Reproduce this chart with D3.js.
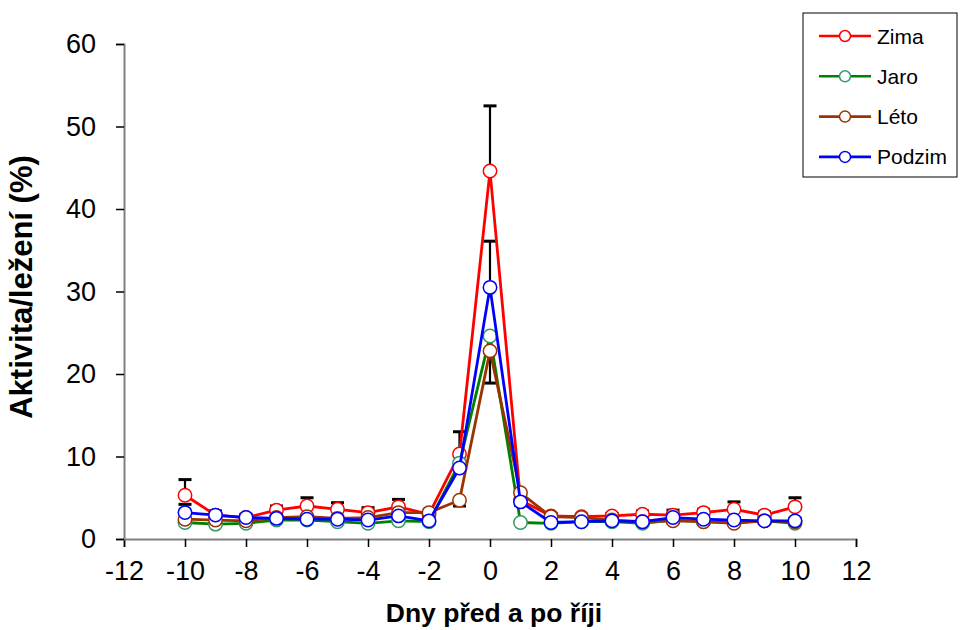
<!DOCTYPE html>
<html><head><meta charset="utf-8">
<script src="https://cdn.jsdelivr.net/npm/d3@7/dist/d3.min.js"></script>
<style>body{margin:0;background:#fff}svg{display:block}text{font-family:Arial,"Liberation Sans",sans-serif}</style>
</head><body><svg id="c" width="960" height="630"></svg>
<script>
const days = [-10,-9,-8,-7,-6,-5,-4,-3,-2,-1,0,1,2,3,4,5,6,7,8,9,10];
const zima   = [5.3,2.9,2.6,3.5,4.0,3.6,3.2,3.9,3.0,10.3,44.6,4.7,2.8,2.7,2.8,3.0,2.9,3.2,3.6,2.9,3.9];
const jaro   = [2.0,1.8,1.9,2.3,2.3,2.1,1.9,2.2,2.1,9.2,24.6,2.0,1.9,2.1,2.1,1.9,2.3,2.1,2.0,2.2,1.9];
const leto   = [2.4,2.3,2.2,2.6,2.7,2.5,2.6,3.2,3.2,4.7,22.8,5.6,2.7,2.6,2.3,2.1,2.2,2.1,1.9,2.2,2.1];
const podzim = [3.2,2.9,2.6,2.5,2.4,2.4,2.3,2.8,2.2,8.6,30.5,4.5,2.0,2.1,2.2,2.1,2.6,2.4,2.3,2.2,2.2];
// error bar ends (upper for Zima/Podzim, lower for Léto); null = not shown
const zimaErrTop   = [7.2,3.4,3.0,4.0,5.0,4.4,3.8,4.8,3.3,13.0,52.5,5.2,3.1,3.0,3.1,3.4,3.5,3.6,4.5,3.3,5.0];
const podzimErrTop = [4.2,3.3,2.9,2.8,2.7,2.7,2.6,3.1,2.5,9.0,36.1,4.9,2.3,2.4,2.5,2.4,3.0,2.7,2.6,2.5,2.5];
const letoErrLow   = [null,null,null,null,null,null,null,null,null,4.0,18.9,4.1,null,null,null,null,null,null,null,null,null];
const xTicks = [-12,-10,-8,-6,-4,-2,0,2,4,6,8,10,12];
const yTicks = [0,10,20,30,40,50,60];
const seriesNames = ["Zima","Jaro","Léto","Podzim"];
const lineColors = ["#ff0000","#008000","#993300","#0000ff"];
const markerColors = ["#ff0000","#339966","#993300","#0000ff"];
const xLabel = "Dny před a po říji";
const yLabel = "Aktivita/ležení (%)";

const svg = d3.select("#c");
const x = d3.scaleLinear().domain([-12,12]).range([124,856]);
const y = d3.scaleLinear().domain([0,60]).range([539,44]);

// axes
const gx = svg.append("g").attr("transform","translate(0,539)")
  .call(d3.axisBottom(x).tickValues(xTicks).tickSize(8).tickPadding(14).tickFormat(d=>d<0?"-"+Math.abs(d):d));
const gy = svg.append("g").attr("transform","translate(124,0)")
  .call(d3.axisLeft(y).tickValues(yTicks).tickSize(8).tickPadding(20));
[gx,gy].forEach(g=>{
  g.attr("font-size",null).attr("font-family",null);
  g.select(".domain").attr("stroke","#808080").attr("stroke-width",2);
  g.selectAll(".tick line").attr("stroke","#000").attr("stroke-width",1.5);
  g.selectAll(".tick text").style("font-size","27px").attr("fill","#000");
});

svg.append("text").attr("x",494).attr("y",622).attr("text-anchor","middle")
  .style("font-size","26.5px").attr("font-weight","bold").text(xLabel);
svg.append("text").attr("transform","translate(32,287) rotate(-90)").attr("text-anchor","middle")
  .style("font-size","31px").attr("font-weight","bold").text(yLabel);

const allSeries = [zima,jaro,leto,podzim];
const errSets = [[zima,zimaErrTop],[podzim,podzimErrTop],[leto,letoErrLow]];

// error bars
const eg = svg.append("g");
errSets.forEach(([vals,ends])=>{
  days.forEach((d,i)=>{
    if(ends[i]==null) return;
    eg.append("line").attr("x1",x(d)).attr("x2",x(d)).attr("y1",y(vals[i])).attr("y2",y(ends[i]))
      .attr("stroke","#000").attr("stroke-width",2.2);
    eg.append("line").attr("x1",x(d)-6.5).attr("x2",x(d)+6.5).attr("y1",y(ends[i])).attr("y2",y(ends[i]))
      .attr("stroke","#000").attr("stroke-width",3);
  });
});

const line = d3.line().x((v,i)=>x(days[i])).y(v=>y(v));
allSeries.forEach((vals,k)=>{
  svg.append("path").datum(vals).attr("d",line).attr("fill","none")
    .attr("stroke",lineColors[k]).attr("stroke-width",2.8).attr("stroke-linejoin","round");
  svg.append("g").selectAll("circle").data(vals).join("circle")
    .attr("cx",(v,i)=>x(days[i])).attr("cy",v=>y(v)).attr("r",6.7)
    .attr("fill","#fff").attr("stroke",markerColors[k]).attr("stroke-width",1.5);
});

// legend
const lg = svg.append("g");
lg.append("rect").attr("x",803).attr("y",13).attr("width",154).attr("height",164)
  .attr("fill","#fff").attr("stroke","#000").attr("stroke-width",1);
seriesNames.forEach((n,k)=>{
  const yy = 36 + k*40.3;
  lg.append("line").attr("x1",819).attr("x2",871).attr("y1",yy).attr("y2",yy)
    .attr("stroke",lineColors[k]).attr("stroke-width",2.6);
  lg.append("circle").attr("cx",845).attr("cy",yy).attr("r",5.5).attr("fill","#fff")
    .attr("stroke",markerColors[k]).attr("stroke-width",1.5);
  lg.append("text").attr("x",877).attr("y",yy+7.5).style("font-size","21px").text(n);
});
</script></body></html>
